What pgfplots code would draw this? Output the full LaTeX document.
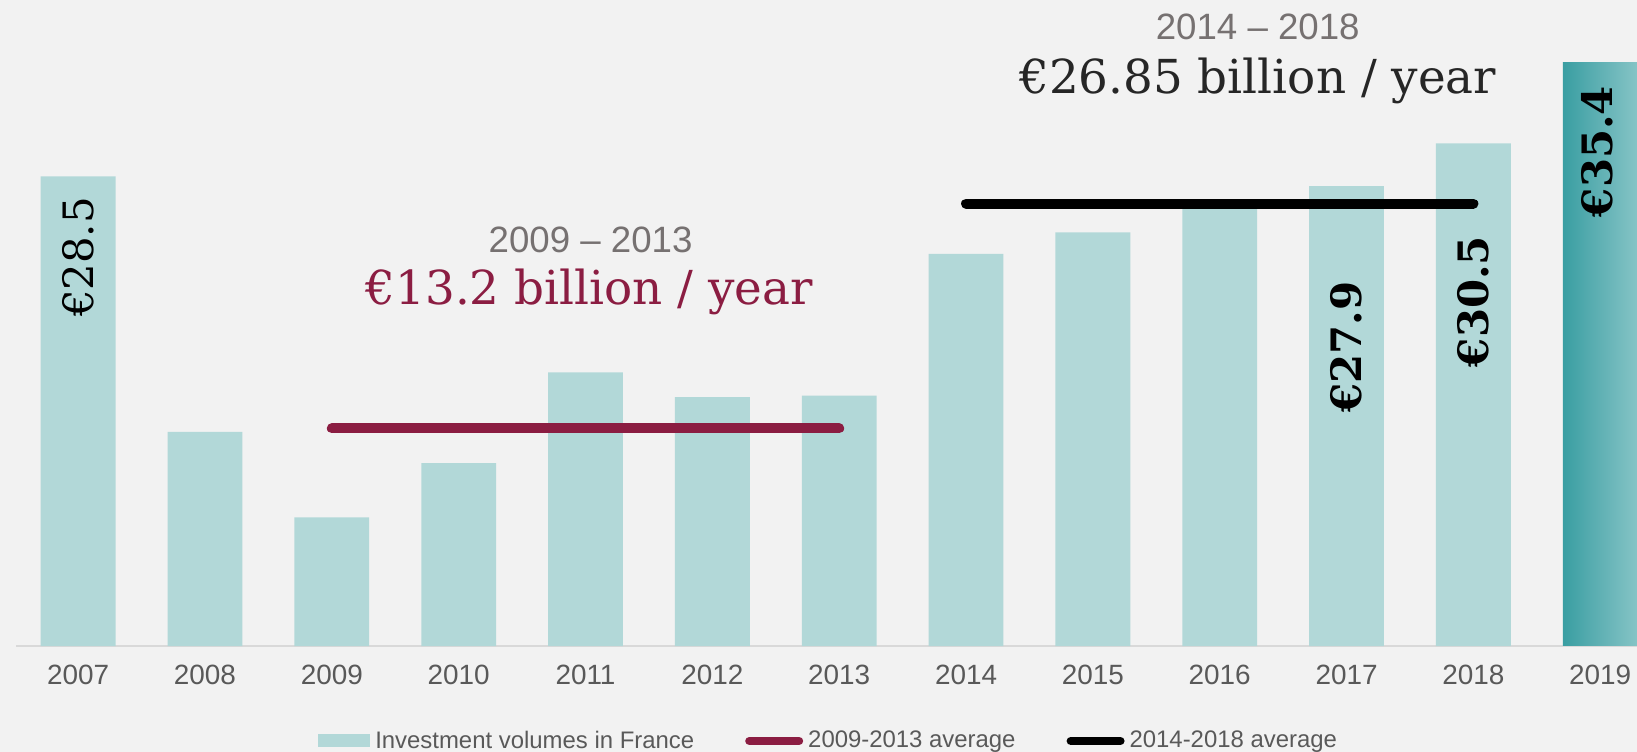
\documentclass[border=0pt]{standalone}
\usepackage{fontspec}
\setmainfont{Liberation Sans}
\newfontfamily\dvserif{DejaVu Serif}
\usepackage{pgfplots}
\pgfplotsset{compat=1.18}
\definecolor{bg}{HTML}{F2F2F2}
\definecolor{barc}{HTML}{B2D8D8}
\definecolor{tealdark}{HTML}{3A9EA2}
\definecolor{teallight}{HTML}{86C4C6}
\definecolor{wine}{HTML}{8B1D42}
\definecolor{axgrey}{HTML}{D9D9D9}
\definecolor{tickgrey}{HTML}{595959}
\definecolor{subgrey}{HTML}{767171}
\definecolor{darktext}{HTML}{262626}
\begin{document}
\begin{tikzpicture}
\useasboundingbox (0,0) rectangle (818.5bp,376bp);
\fill[bg] (0,0) rectangle (818.5bp,376bp);
\clip (0,0) rectangle (818.5bp,376bp);
\begin{axis}[
  at={(8bp,53bp)}, anchor=south west,
  scale only axis, width=810.5bp, height=323bp,
  xmin=-0.49, xmax=12.29, ymin=0, ymax=39.2,
  axis x line*=bottom, axis y line=none,
  x axis line style={draw=axgrey, line width=1.3bp},
  xtick={0,...,12},
  xticklabels={2007,2008,2009,2010,2011,2012,2013,2014,2015,2016,2017,2018,2019},
  major tick length=0pt,
  xticklabel style={font=\fontsize{14}{16}\selectfont, text=tickgrey, anchor=north, yshift=-5.8bp},
  clip=false,
  legend columns=3,
  legend style={at={(0.501,-0.147)}, anchor=center, draw=none, fill=none,
    font=\fontsize{12}{14}\selectfont, text=tickgrey, nodes={inner sep=0.5bp},
    /tikz/every odd column/.append style={column sep=2bp},
    /tikz/every even column/.append style={column sep=25bp}},
]
\addplot[ybar, bar width=0.59, bar shift=0pt, fill=barc, draw=none,
  legend image code/.code={\fill[barc] (0bp,-3.25bp) rectangle (26bp,3.25bp);}]
  coordinates {(0,28.5)(1,13.0)(2,7.8)(3,11.1)(4,16.6)(5,15.1)(6,15.2)(7,23.8)(8,25.1)(9,26.9)(10,27.9)(11,30.5)};
\addlegendentry{Investment volumes in France}
\addplot[ybar, bar width=0.59, bar shift=0pt, draw=none, left color=tealdark, right color=teallight, forget plot]
  coordinates {(12,35.4)};
\addplot[wine, line width=5bp, line cap=round,
  legend image code/.code={\draw[wine, line width=4.2bp, line cap=round] (2.1bp,0bp) -- (26.9bp,0bp);}]
  coordinates {(2,13.2)(6,13.2)};
\addlegendentry{2009-2013 average}
\addplot[black, line width=5bp, line cap=round,
  legend image code/.code={\draw[black, line width=4.2bp, line cap=round] (2.1bp,0bp) -- (26.9bp,0bp);}]
  coordinates {(7,26.85)(11,26.85)};
\addlegendentry{2014-2018 average}
\node[font=\fontsize{18.4}{20}\selectfont, text=subgrey, anchor=base] at (axis cs:4.04,23.9) {2009 – 2013};
\node[font=\dvserif\fontsize{23.5}{26}\selectfont, text=wine, anchor=base] at (axis cs:4.03,20.75) {€13.2 billion / year};
\node[font=\fontsize{18.4}{20}\selectfont, text=subgrey, anchor=base] at (axis cs:9.3,36.8) {2014 – 2018};
\node[font=\dvserif\fontsize{23.5}{26}\selectfont, text=darktext, anchor=base] at (axis cs:9.3,33.55) {€26.85 billion / year};
\node[rotate=90, font=\dvserif\fontsize{21}{24}\selectfont] at (axis cs:0,23.6) {€28.5};
\node[rotate=90, font=\dvserif\bfseries\fontsize{21}{24}\selectfont] at (axis cs:10,18.15) {€27.9};
\node[rotate=90, font=\dvserif\bfseries\fontsize{21}{24}\selectfont] at (axis cs:11,20.9) {€30.5};
\node[rotate=90, font=\dvserif\bfseries\fontsize{21}{24}\selectfont] at (axis cs:11.98,30.0) {€35.4};
\end{axis}
\end{tikzpicture}
\end{document}
